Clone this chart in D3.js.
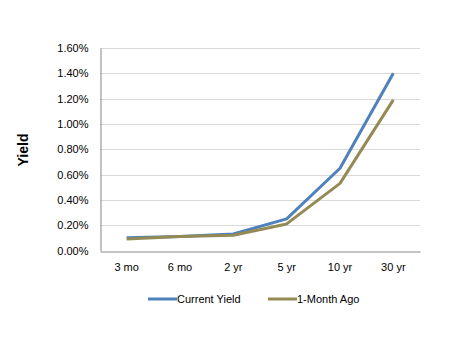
<!DOCTYPE html>
<html>
<head>
<meta charset="utf-8">
<script src="https://cdn.jsdelivr.net/npm/d3@7"></script>
<style>
html,body{margin:0;padding:0;background:#fff;}
svg{display:block;font-family:Arial,"Liberation Sans",sans-serif;}
</style>
</head>
<body>
<svg id="chart" width="450" height="341"></svg>
<script>
const categories = ["3 mo","6 mo","2 yr","5 yr","10 yr","30 yr"];
const currentYield = [0.10,0.11,0.13,0.25,0.65,1.40];
const monthAgo = [0.09,0.11,0.12,0.21,0.53,1.19];
const yTicks = [0,0.2,0.4,0.6,0.8,1.0,1.2,1.4,1.6];
const seriesNames = ["Current Yield","1-Month Ago"];
const seriesColors = ["#4F81BD","#948A54"];

const svg = d3.select("#chart");
const plotLeft = 100, plotRight = 420, plotTop = 48, plotBottom = 250.5;
const x = d3.scaleBand().domain(categories).range([plotLeft,plotRight]);
const y = d3.scaleLinear().domain([0,1.6]).range([plotBottom,plotTop]);

// gridlines
svg.append("g").selectAll("line").data(yTicks.filter(d=>d>0)).join("line")
  .attr("x1",plotLeft).attr("x2",plotRight)
  .attr("y1",d=>Math.round(y(d))+0.5).attr("y2",d=>Math.round(y(d))+0.5)
  .attr("stroke","#d9d9d9").attr("stroke-width",1);

// y axis
const yAxis = d3.axisLeft(y).tickValues(yTicks).tickFormat(d=>d.toFixed(2)+"%").tickSize(0).tickPadding(12);
const gy = svg.append("g").attr("transform",`translate(${plotLeft+0.5},0)`).call(yAxis);
gy.select(".domain").attr("stroke","#868686");
gy.selectAll("text").attr("font-size","11px").attr("fill","#000").attr("font-family","Arial,'Liberation Sans',sans-serif");

// x axis
const xAxis = d3.axisBottom(x).tickSize(0).tickPadding(12);
const gx = svg.append("g").attr("transform",`translate(0,${Math.round(plotBottom)+0.5})`).call(xAxis);
gx.select(".domain").attr("stroke","#868686");
gx.selectAll("text").attr("font-size","11px").attr("fill","#000").attr("font-family","Arial,'Liberation Sans',sans-serif");

// y label
svg.append("text").attr("transform","translate(28,150) rotate(-90)")
  .attr("text-anchor","middle").attr("font-size","14px").attr("font-weight","bold")
  .text("Yield");

// lines
const line = d3.line().x((d,i)=>x(categories[i])+x.bandwidth()/2).y(d=>y(d));
[currentYield, monthAgo].forEach((s,k)=>{
  svg.append("path").datum(s).attr("d",line).attr("fill","none")
    .attr("stroke",seriesColors[k]).attr("stroke-width",3).attr("stroke-linejoin","round");
});

// legend
const legendX = [148,268];
seriesNames.forEach((n,k)=>{
  const g = svg.append("g").attr("transform",`translate(${legendX[k]},299)`);
  g.append("line").attr("x1",0).attr("x2",29).attr("y1",0).attr("y2",0)
    .attr("stroke",seriesColors[k]).attr("stroke-width",3);
  g.append("text").attr("x",29).attr("y",4).attr("font-size","11px").text(n);
});
</script>
</body>
</html>
